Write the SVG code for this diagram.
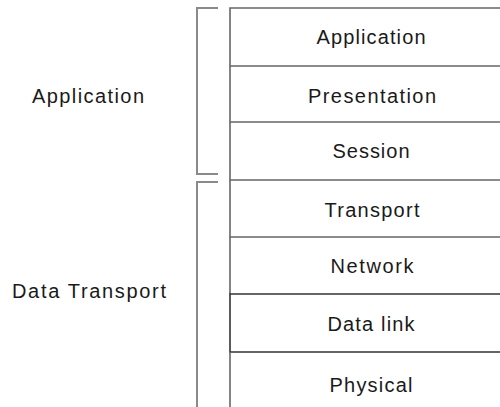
<svg xmlns="http://www.w3.org/2000/svg" width="500" height="407" viewBox="0 0 500 407">
<style>
text{font-family:"Liberation Sans",Arial,sans-serif;font-size:20px;fill:#1a1a1a;}
.c{text-anchor:middle;}
.layer{fill:none;stroke:#666;stroke-width:1.6;}
.dark{fill:none;stroke:#333;stroke-width:1.6;}
.br{fill:none;stroke:#8a8a8a;stroke-width:2;}
</style>
<rect width="500" height="407" fill="#fff"/>
<g id="brackets">
<path class="br" d="M218,8 H197 V174 H218"/>
<path class="br" d="M218,182 H197 V407"/>
</g>
<g id="app-group"><text x="32" y="103" textLength="112" lengthAdjust="spacing">Application</text></g>
<g id="transport-group"><text x="12" y="298" textLength="154" lengthAdjust="spacing">Data Transport</text></g>
<g id="layer-application"><path class="layer" d="M500,8 H230 V66 H500"/><text class="c" x="371" y="44" textLength="109" lengthAdjust="spacing">Application</text></g>
<g id="layer-presentation"><path class="layer" d="M230,66 V122 H500"/><text class="c" x="372" y="103" textLength="128" lengthAdjust="spacing">Presentation</text></g>
<g id="layer-session"><path class="layer" d="M230,122 V180 H500"/><text class="c" x="371" y="158" textLength="77" lengthAdjust="spacing">Session</text></g>
<g id="layer-transport"><path class="layer" d="M230,180 V237 H500"/><text class="c" x="372" y="217" textLength="95" lengthAdjust="spacing">Transport</text></g>
<g id="layer-network"><path class="layer" d="M230,237 V294"/><text class="c" x="372" y="273" textLength="83" lengthAdjust="spacing">Network</text></g>
<g id="layer-datalink"><path class="dark" d="M500,294 H230 V352 H500"/><text class="c" x="371" y="331" textLength="87" lengthAdjust="spacing">Data link</text></g>
<g id="layer-physical"><path class="layer" d="M230,352 V407"/><text class="c" x="371" y="392" textLength="83" lengthAdjust="spacing">Physical</text></g>
</svg>
